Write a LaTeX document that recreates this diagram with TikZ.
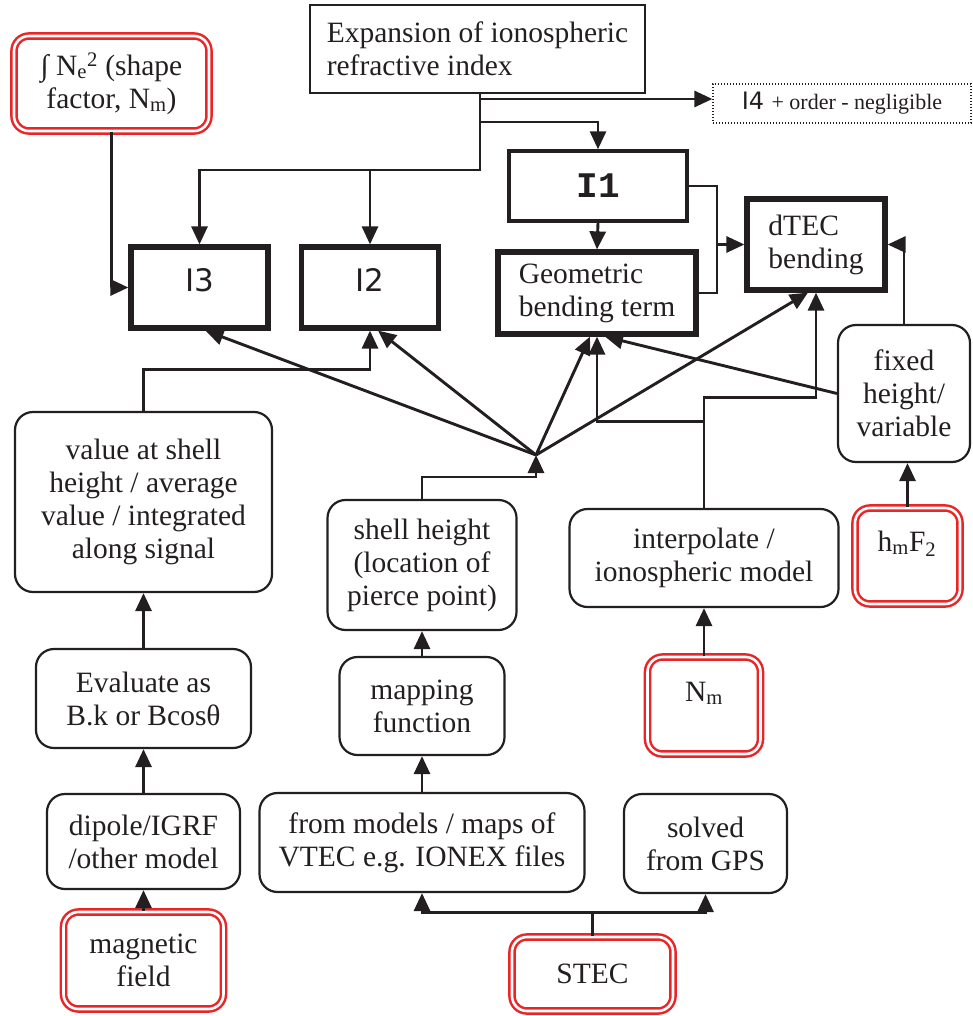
\documentclass[tikz,border=0pt]{standalone}
\usepackage{fontspec}
\setmainfont{Liberation Serif}
\newfontfamily\sansI{DejaVu Sans}
\newfontfamily\monoB{Liberation Mono}
\usetikzlibrary{arrows.meta,calc}
\definecolor{ink}{RGB}{35,31,32}
\definecolor{myred}{RGB}{232,38,40}
\begin{document}
\begin{tikzpicture}[x=1pt,y=-1pt,
  every node/.style={font=\fontsize{29.5}{33}\selectfont, text=ink, inner sep=0pt},
  rbox/.style={draw=ink, line width=2.2pt, rounded corners=18pt, align=center},
  tbox/.style={draw=ink, line width=5.2pt, align=left},
  redbox/.style={draw=myred, line width=2.5pt, double=white, double distance=2.6pt, rounded corners=15pt, align=center},
  conn/.style={draw=ink, line width=2.9pt},
  arr/.style={conn, -{Triangle[length=18pt,width=16pt]}},
  sanslbl/.style={font=\sansI\fontsize{31}{35}\selectfont, anchor=base},
]
\useasboundingbox (0,0) rectangle (973,1016);

% top
\node[redbox, minimum width=195pt, minimum height=95pt] (ne) at (111.5,83.5)
  {∫ N\textsubscript{e}\textsuperscript{2} (shape\\factor, N\textsubscript{m})};
\node[draw=ink, line width=2.2pt, minimum width=335pt, minimum height=88pt, align=left] (expn) at (477.5,49)
  {Expansion of ionospheric\\refractive index};
\node[draw=ink, line width=1.3pt, dash pattern=on 1.2pt off 1.8pt, minimum width=258pt, minimum height=39pt] (i4) at (842,103.5)
  {{\sansI\fontsize{24}{28}\selectfont I4} {\fontsize{22}{26}\selectfont + order - negligible}};

\node[draw=ink, line width=3.4pt, minimum width=178pt, minimum height=70pt, font=\monoB\bfseries\fontsize{36}{40}\selectfont] (i1) at (598,186) {I1};

\node[tbox, minimum width=137pt, minimum height=81pt] (i3) at (199.5,287.5) {};
\node[sanslbl] (i3t) at (199.5,291) {I3};
\node[tbox, minimum width=137pt, minimum height=81pt] (i2) at (370,287.5) {};
\node[sanslbl] (i2t) at (370,291) {I2};

\node[tbox, minimum width=198pt, minimum height=82pt] (geom) at (597,293) {Geometric\\bending term};
\node[tbox, minimum width=138pt, minimum height=91pt] (dtec) at (816,244.5) {dTEC\\bending};

% left column
\node[rbox, minimum width=257pt, minimum height=180pt] (value) at (143.5,502)
  {value at shell\\height / average\\value / integrated\\along signal};
\node[rbox, minimum width=215pt, minimum height=99pt] (evaluate) at (143.5,698.5) {Evaluate as\\B.k or Bcosθ};
\node[rbox, minimum width=193pt, minimum height=95pt] (dipole) at (143.5,841.5) {dipole/IGRF\\/other model};
\node[redbox, minimum width=160pt, minimum height=97pt] (magnetic) at (143.5,960.5) {magnetic\\field};

% middle column
\node[rbox, minimum width=189pt, minimum height=130pt] (shell) at (422,565) {shell height\\(location of\\pierce point)};
\node[rbox, minimum width=165pt, minimum height=98pt] (mapping) at (422,706) {mapping\\function};
\node[rbox, minimum width=325pt, minimum height=99pt] (models) at (422,842.5) {from models / maps of\\VTEC e.g. IONEX files};
\node[rbox, minimum width=163pt, minimum height=99pt] (solved) at (705.5,843.5) {solved\\from GPS};
\node[redbox, minimum width=161pt, minimum height=74pt] (stec) at (592.5,974) {STEC};

% right column
\node[rbox, minimum width=269pt, minimum height=98pt] (interp) at (704,558) {interpolate /\\ionospheric model};
\node[redbox, minimum width=113pt, minimum height=97pt] (nm) at (704,705.5) {};
\node[anchor=base] (nmt) at (704,701) {N\textsubscript{m}};
\node[rbox, minimum width=132pt, minimum height=137pt] (fixed) at (904,393.5) {fixed\\height/\\variable};
\node[redbox, minimum width=105pt, minimum height=96pt] (hmf2) at (907.5,556) {};
\node[anchor=base] (hmf2t) at (907,551) {h\textsubscript{m}F\textsubscript{2}};

% connectors: top
\coordinate (t1) at (480,170);
\coordinate (b4) at (480,99);
\coordinate (b1) at (480,122);
\draw[arr] (expn.south -| t1) -- (t1) -| (i3.north);
\draw[arr] (t1 -| i2.north) -- (i2.north);
\draw[arr] (b4) -- (b4 -| i4.west);
\draw[arr] (b1) -| (i1.north);
\draw[arr] (i1.south) -- (geom.north);
\draw[arr] (ne.south) |- (i3.west);
\coordinate (jx) at (717,244.5);
\draw[conn] (i1.east) -| (jx) |- (geom.east);
\draw[arr] (jx) -- (dtec.west);
\draw[arr] (fixed.north) |- (dtec.east);
\draw[arr] (hmf2.north) -- (hmf2.north |- fixed.south);

% fan
\coordinate (F) at (536,455);
\draw[arr] (shell.north) |- ($(F)+(0,22)$) -- (F);
\draw[arr] (F) -- ($(i3.south)+(6,0)$);
\draw[arr] (F) -- ($(i2.south)+(8,0)$);
\draw[arr] (F) -- ($(geom.south)+(-7,0)$);
\draw[arr] (F) -- ($(dtec.south)+(-8,0)$);

% left chain
\draw[arr] (value.north) -- ++(0,-41) -| (i2.south);
\draw[arr] (evaluate.north) -- (value.south);
\draw[arr] (dipole.north) -- (evaluate.south);
\draw[arr] (magnetic.north) -- (dipole.south);

% middle chain
\draw[arr] (mapping.north) -- (shell.south);
\draw[arr] (models.north) -- (mapping.south);
\draw[arr] (stec.north) -- ++(0,-23) -| (models.south);
\draw[arr] ($(stec.north)+(0,-23)$) -| (solved.south);

% right chain
\draw[arr] (nm.north) -- (interp.south);
\draw[arr] (interp.north) -- ++(0,-110) -| (dtec.south);
\draw[arr] ($(interp.north)+(0,-86)$) -| (geom.south);
\draw[arr] (fixed.west) -- ($(geom.south)+(8,0)$);
\end{tikzpicture}
\end{document}
